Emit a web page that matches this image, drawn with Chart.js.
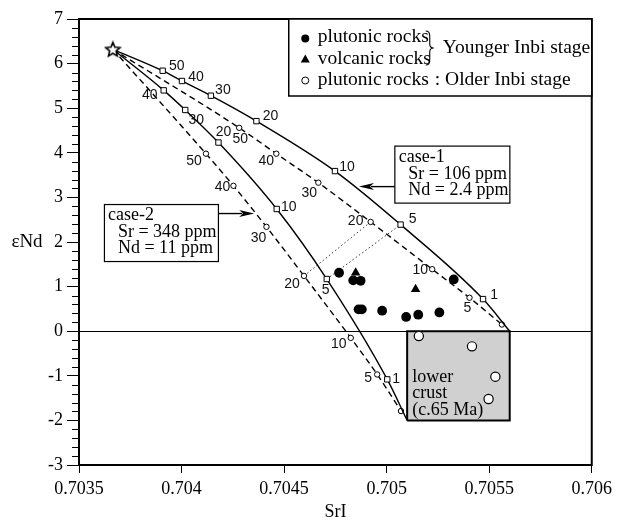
<!DOCTYPE html>
<html>
<head>
<meta charset="utf-8">
<script src="https://cdn.jsdelivr.net/npm/chart.js@4.4.1/dist/chart.umd.min.js"></script>
<style>
  html, body { margin: 0; padding: 0; background: #fff; }
  canvas { display: block; }
</style>
</head>
<body>
<canvas id="chart" width="617" height="520"></canvas>
<script>
// axes
const xTicks = [0.7035, 0.704, 0.7045, 0.705, 0.7055, 0.706];
const xTickLabels = ['0.7035', '0.704', '0.7045', '0.705', '0.7055', '0.706'];
const yTicks = [-3, -2, -1, 0, 1, 2, 3, 4, 5, 6, 7];

// depleted mantle end member (star)
const mantle = [0.703665, 6.32];

// lower crust field (c.65 Ma)
const crustSrI = [0.7051, 0.7056];
const crustNd = [-2, 0];

// case-1 (Sr = 106 ppm, Nd = 2.4 ppm)
const case1SqPct = [50, 40, 30, 20, 10, 5, 1];
const case1SqSrI = [0.703908, 0.704002, 0.704143, 0.704365, 0.704748, 0.705068, 0.705470];
const case1SqNd = [5.84, 5.61, 5.28, 4.71, 3.59, 2.39, 0.72];
const case1CirPct = [50, 40, 30, 20, 10, 5];
const case1CirSrI = [0.704281, 0.704462, 0.704667, 0.704922, 0.705222, 0.705404, 0.705562];
const case1CirNd = [4.56, 3.98, 3.33, 2.45, 1.39, 0.75, 0.15];

// case-2 (Sr = 348 ppm, Nd = 11 ppm)
const case2SqPct = [40, 30, 20, 10, 5, 1];
const case2SqSrI = [0.703913, 0.704018, 0.704180, 0.704464, 0.704708, 0.705003];
const case2SqNd = [5.40, 4.96, 4.23, 2.74, 1.17, -1.08];
const case2CirPct = [50, 40, 30, 20, 10, 5];
const case2CirSrI = [0.704119, 0.704253, 0.704414, 0.704597, 0.704825, 0.704954, 0.705070];
const case2CirNd = [3.98, 3.26, 2.34, 1.24, -0.15, -0.97, -1.79];

// samples
const youngPlutonicSrI = [0.704768, 0.704837, 0.704873, 0.704863, 0.704879, 0.704978, 0.705095, 0.705154, 0.705257, 0.705327];
const youngPlutonicNd = [1.31, 1.14, 1.13, 0.49, 0.49, 0.46, 0.32, 0.37, 0.42, 1.16];
const volcanicSrI = [0.704849, 0.705141];
const volcanicNd = [1.31, 0.94];
const oldPlutonicSrI = [0.705157, 0.705416, 0.705530, 0.705497];
const oldPlutonicNd = [-0.11, -0.34, -1.02, -1.52];

const serif = '"Liberation Serif", "Times New Roman", serif';
const sans = '"Liberation Sans", Arial, sans-serif';

const pts = (xs, ys) => xs.map((v, i) => ({ x: v, y: ys[i] }));
const start = { x: mantle[0], y: mantle[1] };

function starImage() {
  const c = document.createElement('canvas');
  c.width = 18; c.height = 18;
  const g = c.getContext('2d');
  g.beginPath();
  for (let i = 0; i < 10; i++) {
    const r = i % 2 === 0 ? 7.5 : 3.4;
    const a = -Math.PI / 2 + i * Math.PI / 5;
    const px = 9 + r * Math.cos(a), py = 9.6 + r * Math.sin(a);
    if (i === 0) g.moveTo(px, py); else g.lineTo(px, py);
  }
  g.closePath();
  g.fillStyle = '#fff';
  g.fill();
  g.lineWidth = 1.6;
  g.strokeStyle = '#000';
  g.stroke();
  return c;
}

function curve(data, style, radius, lastRadius, dash) {
  const r = data.map((p, i) => (i === 0 ? 0 : i === data.length - 1 ? lastRadius : radius));
  return {
    data,
    showLine: true,
    borderColor: '#000',
    borderWidth: 1.4,
    borderDash: dash,
    cubicInterpolationMode: 'monotone',
    pointStyle: style,
    pointRadius: r,
    pointBackgroundColor: '#fff',
    pointBorderColor: '#000',
    pointBorderWidth: 1,
    order: 2
  };
}

const case1Sq = curve([start, ...pts(case1SqSrI, case1SqNd), { x: crustSrI[1], y: crustNd[1] }], 'rect', 3.8, 0, []);
case1Sq.pct = case1SqPct;
case1Sq.pctOffsets = [[14, -5], [14, -4], [12, -6], [14, -5], [12, -4], [12, -5], [11, -4]];

const case1Cir = curve([start, ...pts(case1CirSrI, case1CirNd)], 'circle', 2.7, 2.7, [6, 4]);
case1Cir.pct = case1CirPct;
case1Cir.pctOffsets = [[1, 11], [-10, 7], [-9, 10], [-15, -1], [-12, 1], [-2, 10]];

const case2Sq = curve([start, ...pts(case2SqSrI, case2SqNd), { x: crustSrI[0], y: crustNd[0] }], 'rect', 3.8, 0, []);
case2Sq.pct = case2SqPct;
case2Sq.pctOffsets = [[-14, 5], [11, 10], [5, -10], [12, -2], [-1, 11], [9, 0]];

const case2Cir = curve([start, ...pts(case2CirSrI, case2CirNd)], 'circle', 2.7, 2.7, [6, 4]);
case2Cir.pct = case2CirPct;
case2Cir.pctOffsets = [[-12, 7], [-11, 1], [-8, 11], [-12, 8], [-12, 6], [-9, 4]];

// tie lines between equal mixing proportions on the two cases
function tie(a, b) {
  return {
    data: [a, b],
    showLine: true,
    borderColor: '#333',
    borderWidth: 1,
    borderDash: [1.5, 2.5],
    pointRadius: 0,
    order: 3
  };
}
const i20 = case2CirPct.indexOf(20);
const tie20 = tie({ x: case2CirSrI[i20], y: case2CirNd[i20] },
                  { x: case1CirSrI[case1CirPct.indexOf(20)], y: case1CirNd[case1CirPct.indexOf(20)] });
const i5 = case2SqPct.indexOf(5);
const tie5 = tie({ x: case2SqSrI[i5], y: case2SqNd[i5] },
                 { x: case1SqSrI[case1SqPct.indexOf(5)], y: case1SqNd[case1SqPct.indexOf(5)] });

const crustBox = {
  data: [
    { x: crustSrI[0], y: crustNd[0] }, { x: crustSrI[1], y: crustNd[0] },
    { x: crustSrI[1], y: crustNd[1] }, { x: crustSrI[0], y: crustNd[1] },
    { x: crustSrI[0], y: crustNd[0] }
  ],
  showLine: true,
  fill: 'shape',
  backgroundColor: '#d0d0d0',
  borderColor: '#000',
  borderWidth: 2,
  pointRadius: 0,
  order: 10
};

const samples = [
  {
    data: pts(youngPlutonicSrI, youngPlutonicNd),
    pointStyle: 'circle', pointRadius: 4.9,
    pointBackgroundColor: '#000', pointBorderColor: '#000', pointBorderWidth: 0,
    order: 0
  },
  {
    data: pts(volcanicSrI, volcanicNd),
    pointStyle: 'triangle', pointRadius: 5.5,
    pointBackgroundColor: '#000', pointBorderColor: '#000', pointBorderWidth: 0,
    order: 0
  },
  {
    data: pts(oldPlutonicSrI, oldPlutonicNd),
    pointStyle: 'circle', pointRadius: 4.6,
    pointBackgroundColor: '#fff', pointBorderColor: '#000', pointBorderWidth: 1.2,
    order: 0
  },
  {
    data: [start],
    pointStyle: starImage(), pointRadius: 8,
    order: 0
  }
];

// short minor ticks on the eNd axis and the closed plot frame
const frame = {
  id: 'frame',
  afterDraw(chart) {
    const { ctx, chartArea: a, scales: { y } } = chart;
    ctx.save();
    ctx.strokeStyle = '#000';
    ctx.lineWidth = 1;
    for (let k = 0; k <= (y.max - y.min) * 5; k++) {
      if (k % 5 === 0) continue;
      const py = Math.round(y.getPixelForValue(y.min + k * 0.2)) + 0.5;
      ctx.beginPath();
      ctx.moveTo(a.left - 7, py);
      ctx.lineTo(a.left, py);
      ctx.stroke();
    }
    ctx.lineWidth = 2;
    ctx.strokeRect(a.left, a.top, a.right - a.left, a.bottom - a.top);
    ctx.restore();
  }
};

// mixing percentage next to each marker
const curveLabels = {
  id: 'curveLabels',
  afterDatasetsDraw(chart) {
    const ctx = chart.ctx;
    ctx.save();
    ctx.font = '14px ' + sans;
    ctx.fillStyle = '#111';
    ctx.textAlign = 'center';
    ctx.textBaseline = 'middle';
    chart.data.datasets.forEach((ds, i) => {
      if (!ds.pct) return;
      const el = chart.getDatasetMeta(i).data;
      ds.pct.forEach((p, j) => {
        const pt = el[j + 1];
        const [dx, dy] = ds.pctOffsets[j];
        ctx.fillText(String(p), pt.x + dx, pt.y + dy);
      });
    });
    ctx.restore();
  }
};

function arrowHead(ctx, x, y, dir) {
  ctx.beginPath();
  ctx.moveTo(x, y);
  ctx.lineTo(x - dir * 15, y - 3.5);
  ctx.lineTo(x - dir * 11, y);
  ctx.lineTo(x - dir * 15, y + 3.5);
  ctx.closePath();
  ctx.fill();
}

function caseBox(ctx, left, top, w, h, lines) {
  ctx.fillStyle = '#fff';
  ctx.fillRect(left, top, w, h);
  ctx.lineWidth = 1.2;
  ctx.strokeRect(left, top, w, h);
  ctx.fillStyle = '#000';
  lines.forEach(([t, dx, dy]) => ctx.fillText(t, left + dx, top + dy));
}

const notes = {
  id: 'notes',
  afterDraw(chart) {
    const { ctx, chartArea: a, scales: { x, y } } = chart;
    ctx.save();
    ctx.strokeStyle = '#000';
    ctx.fillStyle = '#000';
    ctx.textAlign = 'left';
    ctx.textBaseline = 'middle';
    ctx.font = '18px ' + serif;

    // case-1 box and arrow
    let bx = x.getPixelForValue(0.70504), by = y.getPixelForValue(4.15);
    caseBox(ctx, bx, by, 115, 57, [['case-1', 4, 11], ['Sr = 106 ppm', 13.5, 28], ['Nd = 2.4 ppm', 13.5, 44]]);
    let tip = x.getPixelForValue(0.704865);
    ctx.lineWidth = 1.4;
    ctx.beginPath();
    ctx.moveTo(bx, by + 40.5);
    ctx.lineTo(tip + 12, by + 40.5);
    ctx.stroke();
    arrowHead(ctx, tip, by + 40.5, -1);

    // case-2 box and arrow
    bx = x.getPixelForValue(0.703624); by = y.getPixelForValue(2.84);
    caseBox(ctx, bx, by, 114, 57, [['case-2', 3.5, 11], ['Sr = 348 ppm', 13.5, 27.5], ['Nd = 11 ppm', 13.5, 43.5]]);
    tip = x.getPixelForValue(0.704354);
    ctx.lineWidth = 1.4;
    ctx.beginPath();
    ctx.moveTo(bx + 114, by + 9);
    ctx.lineTo(tip - 12, by + 9);
    ctx.stroke();
    arrowHead(ctx, tip, by + 9, 1);

    // lower crust caption
    const cx = x.getPixelForValue(crustSrI[0]) + 5, cy = y.getPixelForValue(crustNd[1]);
    ctx.fillText('lower', cx, cy + 46);
    ctx.fillText('crust', cx, cy + 62.5);
    ctx.fillText('(c.65 Ma)', cx, cy + 79);

    // eNd axis title
    ctx.textAlign = 'center';
    ctx.font = '19px ' + serif;
    ctx.fillText('\u03B5Nd', 27, y.getPixelForValue(2));

    // legend
    const L = a.right - 303, T = a.top;
    ctx.fillStyle = '#fff';
    ctx.fillRect(L, T, a.right - L, 77);
    ctx.lineWidth = 1.5;
    ctx.strokeRect(L, T, a.right - L, 77);
    ctx.fillStyle = '#000';
    ctx.beginPath();
    ctx.arc(L + 16.5, T + 19.5, 4, 0, Math.PI * 2);
    ctx.fill();
    ctx.beginPath();
    ctx.moveTo(L + 16.5, T + 35.5);
    ctx.lineTo(L + 21, T + 43.5);
    ctx.lineTo(L + 12, T + 43.5);
    ctx.closePath();
    ctx.fill();
    ctx.lineWidth = 1;
    ctx.beginPath();
    ctx.arc(L + 16.5, T + 61.5, 3.5, 0, Math.PI * 2);
    ctx.stroke();

    ctx.textAlign = 'left';
    ctx.font = '19.5px ' + serif;
    ctx.fillText('plutonic rocks', L + 29, T + 18);
    ctx.fillText('volcanic rocks', L + 29, T + 40);
    ctx.fillText('plutonic rocks', L + 29, T + 61);
    ctx.fillText(': Older Inbi stage', L + 146, T + 61);
    ctx.fillText('Younger Inbi stage', L + 154, T + 29);

    // brace grouping the two younger rows
    const b0 = L + 137;
    ctx.lineWidth = 1.1;
    ctx.beginPath();
    ctx.moveTo(b0, T + 12);
    ctx.quadraticCurveTo(b0 + 4, T + 12, b0 + 4, T + 17);
    ctx.lineTo(b0 + 4, T + 25);
    ctx.quadraticCurveTo(b0 + 4, T + 29, b0 + 8, T + 29);
    ctx.quadraticCurveTo(b0 + 4, T + 29, b0 + 4, T + 33);
    ctx.lineTo(b0 + 4, T + 41);
    ctx.quadraticCurveTo(b0 + 4, T + 46, b0, T + 46);
    ctx.stroke();

    ctx.restore();
  }
};

new Chart(document.getElementById('chart'), {
  type: 'scatter',
  data: {
    datasets: [...samples, case1Sq, case1Cir, case2Sq, case2Cir, tie20, tie5, crustBox]
  },
  options: {
    responsive: false,
    animation: false,
    devicePixelRatio: 1,
    layout: { padding: { top: 19, right: 24, bottom: 0, left: 0 } },
    plugins: {
      legend: { display: false },
      tooltip: { enabled: false }
    },
    scales: {
      x: {
        type: 'linear',
        min: xTicks[0],
        max: xTicks[xTicks.length - 1],
        afterBuildTicks: (s) => { s.ticks = xTicks.map((v) => ({ value: v })); },
        afterFit: (s) => { s.height = 55; },
        ticks: {
          callback: (v, i) => xTickLabels[i],
          font: { family: serif, size: 18 },
          color: '#000',
          padding: 5,
          maxRotation: 0
        },
        grid: { drawOnChartArea: false, tickLength: 8, tickColor: '#000', tickWidth: 1 },
        border: { color: '#000', width: 2 },
        title: {
          display: true,
          text: 'SrI',
          font: { family: serif, size: 18 },
          color: '#000',
          padding: { top: 0, bottom: -3 }
        }
      },
      y: {
        type: 'linear',
        min: yTicks[0],
        max: yTicks[yTicks.length - 1],
        afterBuildTicks: (s) => { s.ticks = yTicks.map((v) => ({ value: v })); },
        afterFit: (s) => { s.width = 79; },
        ticks: {
          callback: (v) => String(v),
          font: { family: serif, size: 18 },
          color: '#000',
          padding: 4
        },
        grid: {
          drawOnChartArea: true,
          color: (c) => (c.tick && c.tick.value === 0 ? '#000' : 'rgba(0,0,0,0)'),
          lineWidth: 1,
          tickLength: 12,
          tickColor: '#000',
          tickWidth: 1
        },
        border: { color: '#000', width: 2 }
      }
    }
  },
  plugins: [frame, curveLabels, notes]
});
</script>
</body>
</html>
